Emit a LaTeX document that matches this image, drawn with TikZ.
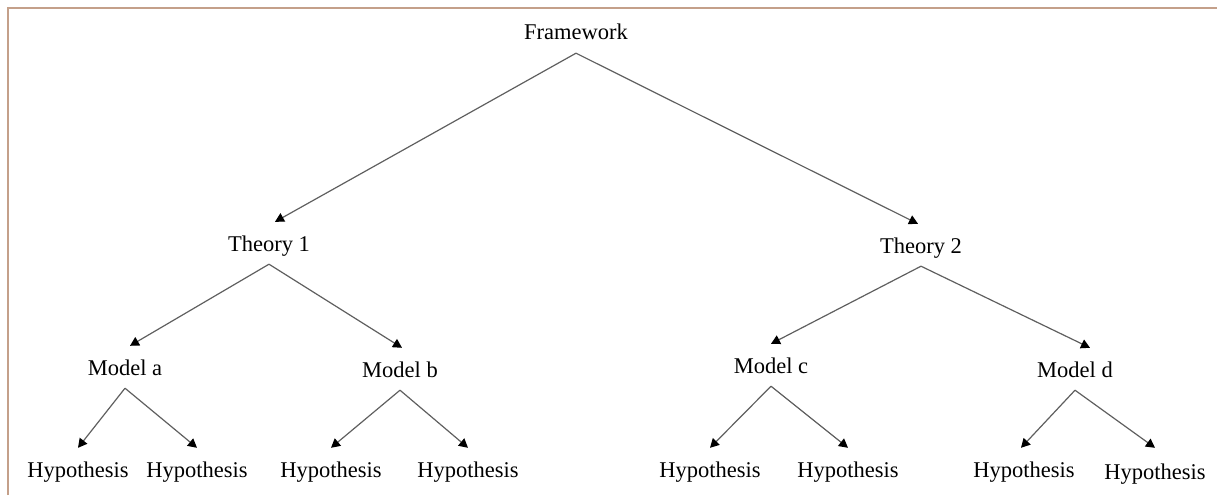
\documentclass[tikz,border=0pt]{standalone}
\usepackage{fontspec}
\setmainfont{Liberation Serif}
\usetikzlibrary{arrows.meta}
\definecolor{framecol}{RGB}{196,160,138}
\definecolor{edgecol}{RGB}{95,95,95}
\begin{document}
\begin{tikzpicture}[x=1pt,y=-1pt,
  lbl/.style={font=\fontsize{22.5}{27}\selectfont, text height=21pt, text depth=5pt,
              inner ysep=8pt, inner xsep=2pt, anchor=base},
  link/.style={draw=edgecol, line width=1.2pt, -{Triangle[length=9pt,width=9.5pt,color=black]}}]
\useasboundingbox (0,0) rectangle (1217,495);
\draw[framecol, line width=2pt] (8,495) -- (8,8) -- (1217,8);

\node[lbl] (fw) at (576,40) {Framework};
\node[lbl] (t1) at (269,251) {Theory 1};
\node[lbl] (t2) at (921,253) {Theory 2};
\node[lbl] (ma) at (125,375) {Model a};
\node[lbl] (mb) at (400,377) {Model b};
\node[lbl] (mc) at (771,373) {Model c};
\node[lbl] (md) at (1075,377) {Model d};
\node[lbl] (h1) at (78,477) {Hypothesis};
\node[lbl] (h2) at (197,477) {Hypothesis};
\node[lbl] (h3) at (331,477) {Hypothesis};
\node[lbl] (h4) at (468,477) {Hypothesis};
\node[lbl] (h5) at (710,477) {Hypothesis};
\node[lbl] (h6) at (848,477) {Hypothesis};
\node[lbl] (h7) at (1024,477) {Hypothesis};
\node[lbl] (h8) at (1155,479) {Hypothesis};

\draw[link] (fw.south) -- ([xshift=6pt]t1.north);
\draw[link] (fw.south) -- ([xshift=-3pt]t2.north);
\draw[link] (t1.south) -- ([xshift=5pt]ma.north);
\draw[link] (t1.south) -- ([xshift=2pt]mb.north);
\draw[link] (t2.south) -- (mc.north);
\draw[link] (t2.south) -- ([xshift=15pt]md.north);
\draw[link] (ma.south) -- (h1.north);
\draw[link] (ma.south) -- (h2.north);
\draw[link] (mb.south) -- (h3.north);
\draw[link] (mb.south) -- (h4.north);
\draw[link] (mc.south) -- (h5.north);
\draw[link] (mc.south) -- (h6.north);
\draw[link] (md.south) -- ([xshift=-3pt]h7.north);
\draw[link] (md.south) -- ([yshift=2pt]h8.north);
\end{tikzpicture}
\end{document}
